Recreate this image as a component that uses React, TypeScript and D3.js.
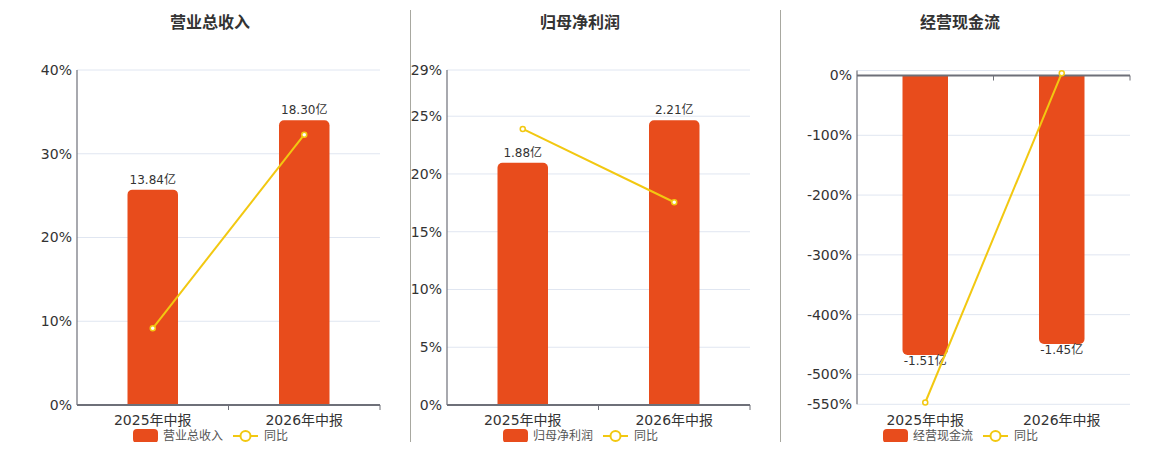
import * as d3 from "d3";

const categories = ["2025年中报", "2026年中报"];

const revenue = [13.84, 18.3];
const revenueYoy = [9.16, 32.27];
const revenueTicks = [0, 10, 20, 30, 40];

const profit = [1.88, 2.21];
const profitYoy = [23.9, 17.55];
const profitTicks = [0, 5, 10, 15, 20, 25, 29];

const cashflow = [-1.51, -1.45];
const cashflowYoy = [-547, 4];
const cashflowTicks = [0, -100, -200, -300, -400, -500, -550];

const BAR = "#E84C1C";
const LINE = "#F2C811";
const TEXT = "#333";
const AXIS = "#6E7079";
const GRID = "#E0E6F1";
const FONT = "'DejaVu Sans', 'Noto Sans CJK SC', sans-serif";

interface PanelProps {
    title: string;
    legend: string;
    bars: number[];
    yoy: number[];
    ticks: number[];
    domain: [number, number];
    left: number;
    right: number;
    top: number;
    bottom: number;
    center: number;
}

// bar path with rounded far end
function barPath(x0: number, w: number, y0: number, y1: number, r: number) {
    const up = y1 < y0;
    const rr = Math.min(r, Math.abs(y1 - y0));
    const p = d3.path();
    if (up) {
        p.moveTo(x0, y0);
        p.lineTo(x0, y1 + rr);
        p.arcTo(x0, y1, x0 + rr, y1, rr);
        p.lineTo(x0 + w - rr, y1);
        p.arcTo(x0 + w, y1, x0 + w, y1 + rr, rr);
        p.lineTo(x0 + w, y0);
    } else {
        p.moveTo(x0, y0);
        p.lineTo(x0, y1 - rr);
        p.arcTo(x0, y1, x0 + rr, y1, rr);
        p.lineTo(x0 + w - rr, y1);
        p.arcTo(x0 + w, y1, x0 + w, y1 - rr, rr);
        p.lineTo(x0 + w, y0);
    }
    p.closePath();
    return p.toString();
}

function Panel({ title, legend, bars, yoy, ticks, domain, left, right, top, bottom, center }: PanelProps) {
    const x = d3.scaleBand(categories, [left, right]);
    const y = d3.scaleLinear(domain, [bottom, top]);
    const y0 = y(0);
    const maxAbs = d3.max(bars, (d) => Math.abs(d)) as number;
    const neg = bars[0] < 0;
    const yb = d3.scaleLinear(
        [0, ((neg ? -1 : 1) * maxAbs) / 0.85],
        [y0, neg ? bottom : top]
    );
    const bw = x.bandwidth() / 3;
    const cx = (c: string) => (x(c) as number) + x.bandwidth() / 2;
    const line = d3.line<number>((_d, i) => cx(categories[i]), (d) => y(d));
    const gridTicks = !ticks.includes(domain[1]) ? [...ticks, domain[1]] : ticks;

    return (
        <g fontFamily={FONT}>
            <text x={center} y={28} textAnchor="middle" fontSize={16} fontWeight="bold" fill={TEXT}>
                {title}
            </text>
            {gridTicks.map((t) => (
                <line key={t} x1={left} x2={right} y1={y(t)} y2={y(t)} stroke={GRID} />
            ))}
            {ticks.map((t) => (
                <text key={t} x={left - 5} y={y(t)} dy="0.35em" textAnchor="end" fontSize={14} fill={TEXT}>
                    {t}%
                </text>
            ))}
            <line x1={left} x2={left} y1={top} y2={bottom} stroke={AXIS} strokeWidth={1.2} />
            {bars.map((v, i) => (
                <path
                    key={i}
                    d={barPath(cx(categories[i]) - bw / 2, bw, y0, yb(v), 5)}
                    fill={BAR}
                />
            ))}
            <line x1={left} x2={right} y1={y0} y2={y0} stroke={AXIS} strokeWidth={2} />
            {[x.bandwidth() + left, right].map((tx) => (
                <line key={tx} x1={tx} x2={tx} y1={y0} y2={y0 + 5} stroke={AXIS} />
            ))}
            {bars.map((v, i) => (
                <text
                    key={i}
                    x={cx(categories[i])}
                    y={v >= 0 ? yb(v) - 6 : yb(v) + 10}
                    textAnchor="middle"
                    fontSize={12}
                    fill={TEXT}
                >
                    {v.toFixed(2)}亿
                </text>
            ))}
            <path d={line(yoy) || ""} fill="none" stroke={LINE} strokeWidth={2} />
            {yoy.map((d, i) => (
                <circle key={i} cx={cx(categories[i])} cy={y(d)} r={2.5} fill="#fff" stroke={LINE} strokeWidth={1.5} />
            ))}
            {categories.map((c) => (
                <text key={c} x={cx(c)} y={425} textAnchor="middle" fontSize={14} fill={TEXT}>
                    {c}
                </text>
            ))}
            <g transform={`translate(${center - 77},0)`}>
                <rect x={0} y={429} width={25} height={14} rx={4} fill={BAR} />
                <text x={30} y={436} dy="0.35em" fontSize={12} fill="#555">
                    {legend}
                </text>
                <line x1={100} x2={125} y1={436} y2={436} stroke={LINE} strokeWidth={2} />
                <circle cx={112.5} cy={436} r={5} fill="#fff" stroke={LINE} strokeWidth={2} />
                <text x={131} y={436} dy="0.35em" fontSize={12} fill="#555">
                    同比
                </text>
            </g>
        </g>
    );
}

export default function App() {
    return (
        <svg width={1160} height={450} style={{ display: "block", margin: -8 }}>
            <rect width={1160} height={450} fill="#fff" />
            <Panel
                title="营业总收入"
                legend="营业总收入"
                bars={revenue}
                yoy={revenueYoy}
                ticks={revenueTicks}
                domain={[0, 40]}
                left={77}
                right={380}
                top={70}
                bottom={405}
                center={210}
            />
            <Panel
                title="归母净利润"
                legend="归母净利润"
                bars={profit}
                yoy={profitYoy}
                ticks={profitTicks}
                domain={[0, 29]}
                left={447}
                right={750}
                top={70}
                bottom={405}
                center={580}
            />
            <Panel
                title="经营现金流"
                legend="经营现金流"
                bars={cashflow}
                yoy={cashflowYoy}
                ticks={cashflowTicks}
                domain={[-550, 8.4]}
                left={857}
                right={1130}
                top={70.5}
                bottom={404.3}
                center={960}
            />
            <line x1={410.5} x2={410.5} y1={10} y2={443} stroke="#A8A8A0" />
            <line x1={780.5} x2={780.5} y1={10} y2={443} stroke="#A8A8A0" />
        </svg>
    );
}
